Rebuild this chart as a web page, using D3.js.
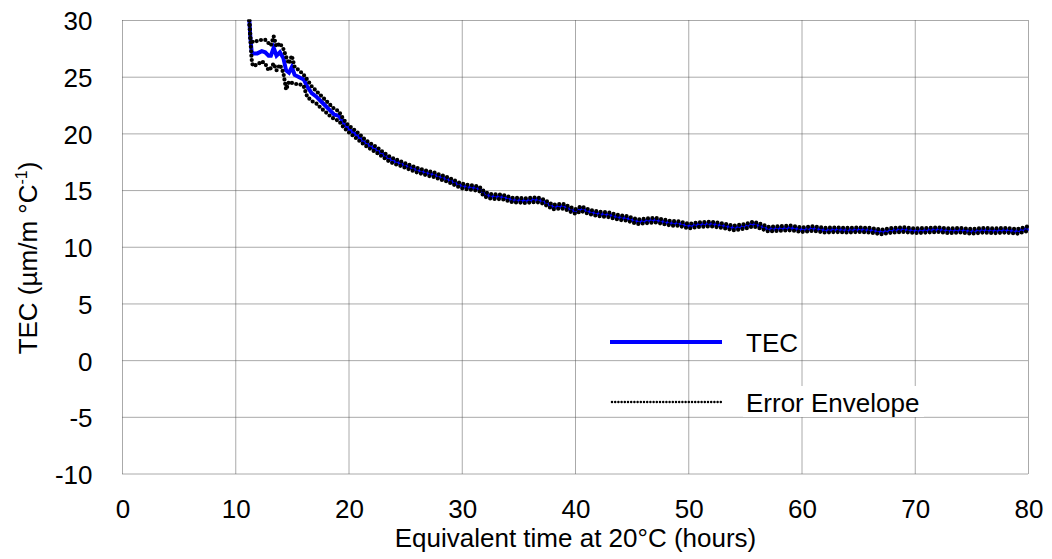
<!DOCTYPE html>
<html>
<head>
<meta charset="utf-8">
<script src="https://cdn.jsdelivr.net/npm/d3@7"></script>
<style>
  body { margin: 0; background: #fff; }
  svg { display: block; font-family: "Liberation Sans", Arial, sans-serif; }
</style>
</head>
<body>
<svg id="chart" width="1052" height="559"></svg>
<script>
// values
const hours = [11.2, 11.3, 11.4, 11.5, 11.9, 12.3, 12.6, 12.9, 13.1, 13.35, 13.6, 13.9, 14.2, 14.45, 14.7, 14.95,
  15.2, 15.6, 16.0, 16.3, 16.7, 17.1, 17.5, 17.9, 18.3, 18.7, 19.1, 19.5, 19.9, 20.4, 20.9, 21.4, 22.0, 22.5,
  23.0, 23.5, 24.0, 24.5, 25.0, 25.5, 26.0, 26.5, 27.0, 27.5, 28.0, 28.5, 29.0, 29.5, 30.0, 30.5, 31.0, 31.5,
  32.0, 32.5, 33.0, 33.5, 34.0, 34.5, 35.0, 35.5, 36.0, 36.5, 37.0, 37.5, 38.0, 38.5, 39.0, 39.5, 40.0, 40.5,
  41.0, 41.5, 42.0, 42.5, 43.0, 43.5, 44.0, 44.5, 45.0, 45.5, 46.0, 46.5, 47.0, 47.5, 48.0, 48.5, 49.0, 49.5,
  50.0, 50.5, 51.0, 52.0, 53.0, 54.0, 55.0, 55.7, 56.5, 57.0, 58.0, 59.0, 60.0, 61.0, 62.0, 63.0, 64.0, 65.0,
  66.0, 67.0, 68.0, 69.0, 70.0, 71.0, 72.0, 73.0, 74.0, 75.0, 76.0, 77.0, 78.0, 79.0, 80.0];

const tec = [30.0, 28.4, 27.3, 27.1, 27.1, 27.3, 27.2, 26.9, 26.9, 27.6, 26.9, 27.2, 26.7, 25.6, 25.4, 25.9,
  25.2, 25.0, 24.8, 24.2, 23.6, 23.3, 22.9, 22.5, 22.1, 21.7, 21.6, 21.0, 20.5, 20.1, 19.7, 19.25, 18.85, 18.55,
  18.2, 17.85, 17.6, 17.4, 17.2, 17.0, 16.8, 16.65, 16.5, 16.4, 16.2, 16.05, 15.85, 15.6, 15.4, 15.3, 15.25, 15.15,
  14.65, 14.5, 14.45, 14.45, 14.3, 14.15, 14.15, 14.1, 14.15, 14.2, 14.1, 13.85, 13.55, 13.6, 13.6, 13.35, 13.15, 13.4,
  13.2, 13.05, 12.95, 12.9, 12.85, 12.7, 12.6, 12.55, 12.4, 12.25, 12.3, 12.35, 12.4, 12.3, 12.2, 12.1, 12.1, 12.0,
  11.85, 11.95, 12.0, 12.05, 11.9, 11.7, 11.85, 12.05, 11.8, 11.6, 11.65, 11.7, 11.55, 11.65, 11.5, 11.55, 11.5, 11.55,
  11.5, 11.35, 11.5, 11.55, 11.45, 11.5, 11.55, 11.45, 11.5, 11.4, 11.5, 11.45, 11.5, 11.4, 11.65];

const envHi = [30.0, 28.4, 28.3, 28.1, 28.2, 28.3, 28.3, 28.0, 27.8, 28.6, 27.7, 28.0, 27.5, 26.8, 26.2, 26.9,
  25.9, 25.6, 25.2, 24.8, 24.2, 23.8, 23.4, 23.0, 22.6, 22.2, 22.0, 21.3, 20.8, 20.4, 20.0, 19.5, 19.1, 18.8,
  18.4, 18.05, 17.8, 17.6, 17.4, 17.2, 17.0, 16.85, 16.7, 16.6, 16.4, 16.25, 16.05, 15.8, 15.6, 15.5, 15.45, 15.35,
  14.85, 14.7, 14.65, 14.65, 14.5, 14.35, 14.35, 14.3, 14.35, 14.4, 14.3, 14.05, 13.75, 13.8, 13.8, 13.55, 13.35, 13.6,
  13.4, 13.25, 13.15, 13.1, 13.05, 12.9, 12.8, 12.75, 12.6, 12.45, 12.5, 12.55, 12.6, 12.5, 12.4, 12.3, 12.3, 12.2,
  12.05, 12.15, 12.2, 12.25, 12.1, 11.9, 12.05, 12.25, 12.0, 11.8, 11.85, 11.9, 11.75, 11.85, 11.7, 11.75, 11.7, 11.75,
  11.7, 11.55, 11.7, 11.75, 11.65, 11.7, 11.75, 11.65, 11.7, 11.6, 11.7, 11.65, 11.7, 11.6, 11.85];

const envLo = [30.0, 28.2, 26.6, 26.0, 26.1, 26.4, 26.2, 25.6, 25.8, 26.2, 25.6, 26.1, 25.4, 23.9, 24.6, 24.5,
  24.4, 24.4, 24.2, 23.3, 22.9, 22.7, 22.3, 21.95, 21.6, 21.3, 21.15, 20.6, 20.2, 19.8, 19.4, 19.0, 18.6, 18.3,
  17.95, 17.6, 17.35, 17.2, 17.0, 16.8, 16.6, 16.45, 16.3, 16.2, 16.0, 15.85, 15.65, 15.4, 15.2, 15.1, 15.05, 14.95,
  14.45, 14.3, 14.25, 14.25, 14.1, 13.95, 13.95, 13.9, 13.95, 14.0, 13.9, 13.65, 13.35, 13.4, 13.4, 13.15, 12.95, 13.2,
  13.0, 12.85, 12.75, 12.7, 12.65, 12.5, 12.4, 12.35, 12.2, 12.05, 12.1, 12.15, 12.2, 12.1, 12.0, 11.9, 11.9, 11.8,
  11.65, 11.75, 11.8, 11.85, 11.7, 11.5, 11.65, 11.85, 11.6, 11.4, 11.45, 11.5, 11.35, 11.45, 11.3, 11.35, 11.3, 11.35,
  11.3, 11.15, 11.3, 11.35, 11.25, 11.3, 11.35, 11.25, 11.3, 11.2, 11.3, 11.25, 11.3, 11.2, 11.45];

const xTicks = [0, 10, 20, 30, 40, 50, 60, 70, 80];
const yTicks = [30, 25, 20, 15, 10, 5, 0, -5, -10];
const legendItems = ["TEC", "Error Envelope"];

const svg = d3.select("#chart");
const margin = {top: 20.5, right: 23.5, bottom: 85, left: 122.5};
const width = 1052, height = 559;
const fontSize = 26;

const x = d3.scaleLinear()
  .domain([0, 80])
  .range([margin.left, width - margin.right]);

const y = d3.scaleLinear()
  .domain([-10, 30])
  .range([height - margin.bottom, margin.top]);

// dotted grid lines
const grid = svg.append("g")
  .attr("stroke", "#555")
  .attr("stroke-width", 1)
  .attr("stroke-dasharray", "1,1");

grid.selectAll("line.v")
  .data(xTicks)
  .enter()
  .append("line")
  .attr("x1", d => x(d)).attr("x2", d => x(d))
  .attr("y1", y(30)).attr("y2", y(-10));

grid.selectAll("line.h")
  .data(yTicks)
  .enter()
  .append("line")
  .attr("x1", x(0)).attr("x2", x(80))
  .attr("y1", d => y(d)).attr("y2", d => y(d));

// axes, only the labels are shown (plain hyphen for negatives)
const xAxis = svg.append("g")
  .attr("transform", `translate(0,${y(-10)})`)
  .call(d3.axisBottom(x).tickValues(xTicks).tickFormat(d => String(d)).tickSize(0).tickPadding(26));
const yAxis = svg.append("g")
  .attr("transform", `translate(${x(0)},0)`)
  .call(d3.axisLeft(y).tickValues(yTicks).tickFormat(d => String(d)).tickSize(0).tickPadding(30));

[xAxis, yAxis].forEach(a => {
  a.select(".domain").remove();
  a.selectAll("text")
    .style("font-family", "'Liberation Sans', Arial, sans-serif")
    .style("font-size", fontSize + "px")
    .attr("fill", "#000");
});
yAxis.selectAll("text").attr("dy", "0.36em");

svg.append("clipPath")
  .attr("id", "plotclip")
  .append("rect")
  .attr("x", x(0)).attr("y", y(30) - 1)
  .attr("width", x(80) - x(0) + 2)
  .attr("height", y(-10) - y(30) + 1);

const plot = svg.append("g").attr("clip-path", "url(#plotclip)");

const line = d3.line()
  .x(d => x(d[0]))
  .y(d => y(d[1]));

plot.append("path")
  .datum(d3.zip(hours, tec))
  .attr("d", line)
  .attr("fill", "none")
  .attr("stroke", "#0000ff")
  .attr("stroke-width", 4);

// error envelope drawn as a beaded dotted line
[envHi, envLo].forEach(env => {
  plot.append("path")
    .datum(d3.zip(hours, env))
    .attr("d", line)
    .attr("fill", "none")
    .attr("stroke", "#000")
    .attr("stroke-width", 4.2)
    .attr("stroke-linecap", "round")
    .attr("stroke-dasharray", "0,4.4");
});

// legend
const legend = svg.append("g");

legend.append("rect")
  .attr("x", 743).attr("y", 386)
  .attr("width", 181).attr("height", 31)
  .attr("fill", "#fff");

legend.append("line")
  .attr("x1", 610).attr("x2", 722)
  .attr("y1", 342).attr("y2", 342)
  .attr("stroke", "#0000ff")
  .attr("stroke-width", 4);

legend.append("line")
  .attr("x1", 612).attr("x2", 724)
  .attr("y1", 402).attr("y2", 402)
  .attr("stroke", "#000")
  .attr("stroke-width", 2.5)
  .attr("stroke-linecap", "round")
  .attr("stroke-dasharray", "0,3.2");

legend.selectAll("text")
  .data(legendItems)
  .enter()
  .append("text")
  .attr("x", 746)
  .attr("y", (d, i) => 352 + i * 60)
  .style("font-size", fontSize + "px")
  .text(d => d);

// axis titles
svg.append("text")
  .attr("x", (x(0) + x(80)) / 2)
  .attr("y", 547)
  .attr("text-anchor", "middle")
  .style("font-size", fontSize + "px")
  .text("Equivalent time at 20°C (hours)");

const yTitle = svg.append("text")
  .attr("transform", "translate(37,258) rotate(-90)")
  .attr("text-anchor", "middle")
  .style("font-size", fontSize + "px");
yTitle.append("tspan").text("TEC (µm/m °C");
yTitle.append("tspan").attr("dy", -10).style("font-size", "16px").text("-1");
yTitle.append("tspan").attr("dy", 10).text(")");
</script>
</body>
</html>
